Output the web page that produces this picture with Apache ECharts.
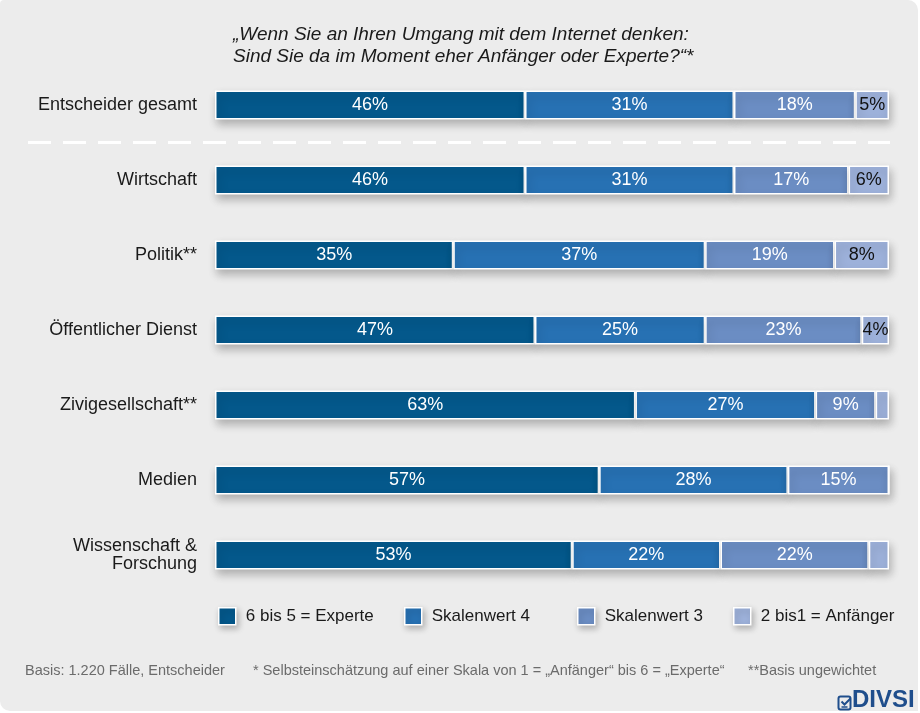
<!DOCTYPE html>
<html>
<head>
<meta charset="utf-8">
<script src="https://cdn.jsdelivr.net/npm/echarts@6/dist/echarts.min.js"></script>
<style>
  html, body { margin: 0; padding: 0; background: #fff; }
  #main { width: 920px; height: 713px; }
</style>
</head>
<body>
<div id="main"></div>
<script>
// categories, top to bottom
const categories = ['Entscheider gesamt', 'Wirtschaft', 'Politik**', 'Öffentlicher Dienst',
  'Zivigesellschaft**', 'Medien', 'Wissenschaft &\nForschung'];
const seriesNames = ['6 bis 5 = Experte', 'Skalenwert 4', 'Skalenwert 3', '2 bis1 = Anfänger'];

// shown percentages (last two rows: small unlabelled rest)
const experte = [46, 46, 35, 47, 63, 57, 53];
const wert4 = [31, 31, 37, 25, 27, 28, 22];
const wert3 = [18, 17, 19, 23, 9, 15, 22];
const anfaenger = [5, 6, 8, 4, 2, 0, 3];

const colors = ['#04588b', '#2771b3', '#6b8dc3', '#9db1da'];
const FONT = '"Liberation Sans", Arial, sans-serif';

const allValues = [experte, wert4, wert3, anfaenger];
// each row is drawn as a 100% bar
const rowTotals = categories.map((c, i) => allValues.reduce((s, arr) => s + arr[i], 0));

const chart = echarts.init(document.getElementById('main'));

const series = allValues.map((arr, k) => ({
  name: seriesNames[k],
  type: 'bar',
  stack: 'total',
  barWidth: 29,
  data: arr.map((v, i) => ({ value: v / rowTotals[i] * 100, raw: v })),
  itemStyle: {
    color: colors[k],
    borderColor: '#fff',
    borderWidth: 1.5,
    shadowBlur: 9,
    shadowColor: 'rgba(0,0,0,0.25)',
    shadowOffsetX: 2,
    shadowOffsetY: 5
  },
  label: {
    show: true,
    position: 'inside',
    color: k === 3 ? '#111' : '#fff',
    fontSize: 18,
    fontFamily: FONT,
    formatter: p => (p.data.raw >= 4 ? p.data.raw + '%' : '')
  },
  emphasis: { disabled: true }
}));

// one legend per entry, so the uneven spacing can be kept
const legendLeft = [213, 399, 572, 728];
const legends = seriesNames.map((n, k) => ({
  data: [n],
  left: legendLeft[k],
  top: 602,
  icon: 'rect',
  itemWidth: 17,
  itemHeight: 17,
  selectedMode: false,
  itemStyle: {
    borderColor: '#fff',
    borderWidth: 1.5,
    shadowBlur: 6,
    shadowColor: 'rgba(0,0,0,0.25)',
    shadowOffsetX: 2,
    shadowOffsetY: 3
  },
  textStyle: { fontSize: 17, color: '#1a1a1a', fontFamily: FONT, padding: [0, 0, 0, 5] }
}));

const footerStyle = { fill: '#6b6b6b', fontSize: 14.5, fontFamily: FONT, verticalAlign: 'middle' };

chart.setOption({
  animation: false,
  title: {
    text: '„Wenn Sie an Ihren Umgang mit dem Internet denken:\nSind Sie da im Moment eher Anfänger oder Experte?“*',
    left: 228,
    top: 19,
    textStyle: {
      fontStyle: 'italic',
      fontWeight: 'normal',
      fontSize: 19,
      lineHeight: 22,
      color: '#1a1a1a',
      fontFamily: FONT
    }
  },
  legend: legends,
  grid: { left: 215, right: 31, top: 67.5, height: 525 },
  xAxis: { type: 'value', min: 0, max: 100, show: false },
  yAxis: {
    type: 'category',
    data: categories,
    inverse: true,
    axisLine: { show: false },
    axisTick: { show: false },
    axisLabel: {
      fontSize: 18,
      color: '#1a1a1a',
      fontFamily: FONT,
      margin: 18,
      lineHeight: 18
    }
  },
  series: series,
  graphic: [
    {
      type: 'rect', z: -10, silent: true,
      shape: { x: 0, y: 0, width: 918, height: 711, r: [4, 10, 0, 10] },
      style: { fill: '#ececec' }
    },
    {
      type: 'line', z: 1, silent: true,
      shape: { x1: 28, y1: 142.5, x2: 890, y2: 142.5 },
      style: { stroke: '#fff', lineWidth: 3, lineDash: [23, 12] }
    },
    { type: 'text', left: 25, top: 663, style: Object.assign({ text: 'Basis: 1.220 Fälle, Entscheider' }, footerStyle) },
    { type: 'text', left: 253, top: 663, style: Object.assign({ text: '* Selbsteinschätzung auf einer Skala von 1 = „Anfänger“ bis 6 = „Experte“' }, footerStyle) },
    { type: 'text', left: 748, top: 663, style: Object.assign({ text: '**Basis ungewichtet' }, footerStyle) },
    // DIVSI logo
    {
      type: 'group', left: 836, top: 694,
      children: [
        { type: 'rect', shape: { x: 0, y: 0, width: 12, height: 13, r: 2 }, style: { fill: 'none', stroke: '#1f4e8c', lineWidth: 2 } },
        { type: 'polyline', shape: { points: [[3, 5], [6, 8], [12, 2]] }, style: { fill: 'none', stroke: '#1f4e8c', lineWidth: 2 } },
        { type: 'line', shape: { x1: 3, y1: 10.5, x2: 9, y2: 10.5 }, style: { stroke: '#1f4e8c', lineWidth: 1.5 } }
      ]
    },
    {
      type: 'text', left: 852, top: 688,
      style: { text: 'DIVSI', fill: '#1f4e8c', fontSize: 24, fontWeight: 'bold', fontFamily: FONT }
    }
  ]
});
</script>
</body>
</html>
